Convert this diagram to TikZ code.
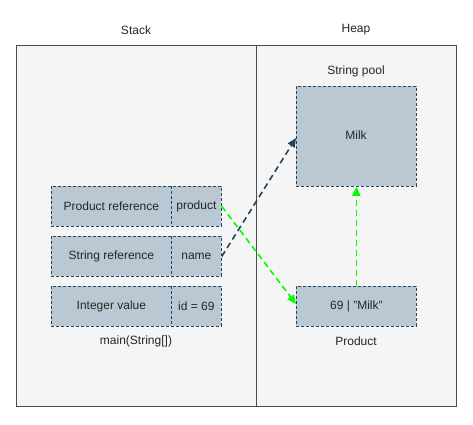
\documentclass[tikz,border=0pt]{standalone}
\usepackage{fontspec}
\setmainfont{Liberation Sans}
\usetikzlibrary{arrows.meta}
\definecolor{bgc}{HTML}{F5F5F5}
\definecolor{framec}{HTML}{666666}
\definecolor{boxfill}{HTML}{BAC8D3}
\definecolor{boxline}{HTML}{23445D}
\definecolor{grn}{HTML}{00FF00}
\tikzset{
  cell/.style={draw=boxline, fill=boxfill, dash pattern=on 3pt off 2pt, line width=0.8pt, minimum height=40pt, inner sep=0pt, font=\fontsize{12}{14}\selectfont, text=black!85},
  lbl/.style={font=\fontsize{12}{14}\selectfont, text=black!85},
  frame/.style={draw=black!70, fill=bgc, line width=0.8pt},
  darrow/.style={draw=boxline, line width=1.6pt, dash pattern=on 6pt off 4pt, -{Triangle[length=9pt,width=8pt]}},
  garrow/.style={draw=grn, line width=1.6pt, dash pattern=on 6pt off 4pt, -{Triangle[length=9pt,width=8pt]}}
}
\begin{document}
\begin{tikzpicture}[x=1pt,y=-1pt]
\useasboundingbox (0,0) rectangle (473,424);
\fill[white] (0,0) rectangle (473,424);
\node[frame, minimum width=240pt, minimum height=361pt, anchor=north west] (stack) at (16,45) {};
\node[frame, minimum width=200pt, minimum height=361pt, anchor=north west] (heap) at (256,45) {};
\node[lbl] (stackl) at (136,30) {Stack};
\node[lbl] (heapl) at (356,30) {Heap};
% stack cells
\node[cell, minimum width=120pt, anchor=north west] (pref) at (51,186) {Product reference};
\node[cell, minimum width=50pt, anchor=north west] (prod) at (171,186) {product};
\node[cell, minimum width=120pt, anchor=north west] (sref) at (51,236) {String reference};
\node[cell, minimum width=50pt, anchor=north west] (name) at (171,236) {name};
\node[cell, minimum width=120pt, anchor=north west] (ival) at (51,286) {Integer value};
\node[cell, minimum width=50pt, anchor=north west] (idv) at (171,286) {id = 69};
\node[lbl] (mainl) at (136,341) {main(String[])};
% heap
\node[lbl] (pooll) at (356,71) {String pool};
\node[cell, minimum width=120pt, minimum height=100pt, anchor=north west] (milk) at (296,86) {};
\node[lbl] (milkt) at (356,135) {Milk};
\node[cell, minimum width=120pt, anchor=north west] (obj) at (296,286) {69 | "Milk"};
\node[lbl] (prodl) at (356,341) {Product};
% arrows
\coordinate (milkin) at (296,138);
\coordinate (objin) at (296,304);
\draw[darrow] (name.east) -- (milkin);
\draw[garrow] (prod.east) -- (objin);
\draw[garrow] (obj.north) -- (milk.south);
\end{tikzpicture}
\end{document}
